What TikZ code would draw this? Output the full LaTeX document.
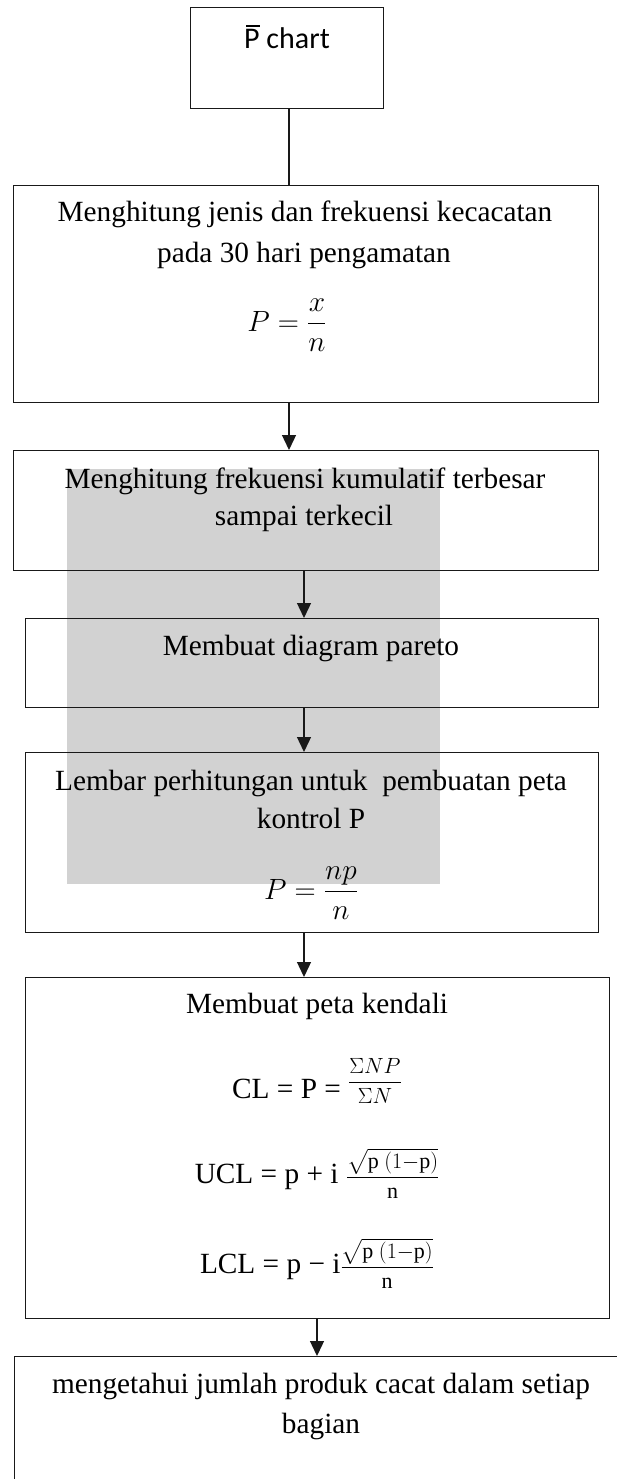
\RequirePackage{fix-cm}
\documentclass[tikz,border=0pt]{standalone}
\usepackage{amsmath}
\usepackage{fontspec}
\setmainfont{Liberation Serif}
\newfontfamily\calfont{Carlito}
\usetikzlibrary{arrows.meta}
\newcommand{\Pbarsym}{\leavevmode\rlap{\hspace{0.07em}\rule[0.74em]{0.44em}{0.055em}}P}
\newcommand{\smallmath}{\fontsize{22}{26}\selectfont}
\newcommand{\sdfrac}{\dfrac{\sqrt{\mathrm{p}\ (1{-}\mathrm{p})}}{\mathrm{n}}}
\tikzset{
  box/.style={draw=black!90, line width=1.3pt, anchor=north west, inner sep=0pt},
  txt/.style={anchor=base, inner sep=0pt, font=\fontsize{29.3}{40}\selectfont},
  link/.style={draw=black!90, line width=1.3pt},
  arr/.style={draw=black!90, line width=1.3pt, -{Triangle[length=15pt,width=14pt]}},
}
\begin{document}
\begin{tikzpicture}[x=1pt,y=-1pt]
\useasboundingbox (0,0) rectangle (616,1479);
\fill[white] (0,0) rectangle (616,1479);
% watermark block
\fill[gray!35] (67,469) rectangle (440,884);

% boxes
\node[box, minimum width=193pt, minimum height=101pt] (top) at (190,7) {};
\node[box, minimum width=585pt, minimum height=217pt] (b1) at (13,185) {};
\node[box, minimum width=585pt, minimum height=120pt] (b2) at (13,450) {};
\node[box, minimum width=573pt, minimum height=89pt] (b3) at (25,618) {};
\node[box, minimum width=573pt, minimum height=180pt] (b4) at (25,752) {};
\node[box, minimum width=584pt, minimum height=341pt] (b5) at (25,977) {};
\node[box, minimum width=640pt, minimum height=200pt] (b6) at (14,1356) {};

% texts
\node[txt, font=\calfont\fontsize{30}{36}\selectfont] (t0) at (287,49) {\Pbarsym{} chart};

\node[txt] (t1a) at (305,222) {Menghitung jenis dan frekuensi kecacatan};
\node[txt] (t1b) at (304,262) {pada 30 hari pengamatan};
\node[txt] (t1c) at (287,331) {$P=\dfrac{x}{n}$};

\node[txt] (t2a) at (305,488) {Menghitung frekuensi kumulatif terbesar};
\node[txt] (t2b) at (304,525) {sampai terkecil};

\node[txt] (t3a) at (311,655) {Membuat diagram pareto};

\node[txt] (t4a) at (311,790) {Lembar perhitungan untuk\ \ pembuatan peta};
\node[txt] (t4b) at (311,828) {kontrol P};
\node[txt] (t4c) at (311,899) {$P=\dfrac{np}{n}$};

\node[txt] (t5a) at (317,1013) {Membuat peta kendali};
\node[txt] (t5b) at (317,1098) {CL = P = \raisebox{10pt}{\smallmath$\dfrac{\Sigma NP}{\Sigma N}$}};
\node[txt] (t5c) at (317,1183) {UCL = p + i {\smallmath$\sdfrac$}};
\node[txt] (t5d) at (317,1273) {LCL = p − i{\smallmath$\sdfrac$}};

\node[txt] (t6a) at (321,1393) {mengetahui jumlah produk cacat dalam setiap};
\node[txt] (t6b) at (321,1433) {bagian};

% connectors
\coordinate (xa) at (289,0);
\coordinate (xb) at (304,0);
\coordinate (xc) at (317,0);
\draw[link] (top.south -| xa) -- (b1.north -| xa);
\draw[arr] (b1.south -| xa) -- (b2.north -| xa);
\draw[arr] (b2.south -| xb) -- (b3.north -| xb);
\draw[arr] (b3.south -| xb) -- (b4.north -| xb);
\draw[arr] (b4.south -| xb) -- (b5.north -| xb);
\draw[arr] (b5.south -| xc) -- (b6.north -| xc);
\end{tikzpicture}
\end{document}
